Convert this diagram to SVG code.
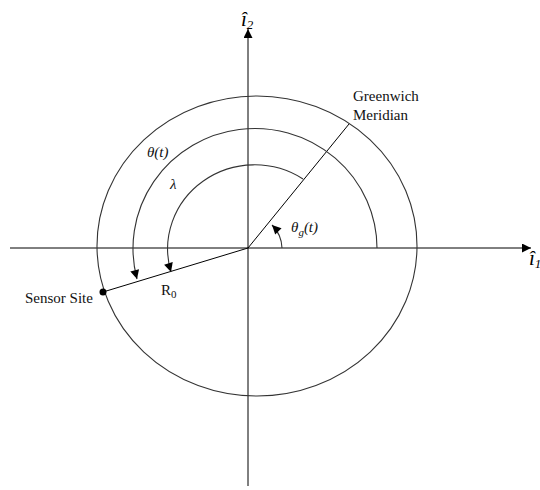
<svg xmlns="http://www.w3.org/2000/svg" width="540" height="490" viewBox="0 0 540 490">
  <style>
    .ln { fill: none; stroke: #000; stroke-width: 1; }
    .arc { fill: none; stroke: #333; stroke-width: 1.1; }
    .t { font-family: "Liberation Serif", "Times New Roman", serif; font-size: 15px; fill: #111; }
    .it { font-style: italic; }
    .ax { font-family: "Liberation Serif", "Times New Roman", serif; font-size: 21px; font-style: italic; fill: #000; }
  </style>
  <defs>
    <marker id="ah" viewBox="0 0 10 10" refX="10" refY="5" markerWidth="10" markerHeight="9" markerUnits="userSpaceOnUse" orient="auto">
      <path d="M0,0 L10,5 L0,10 z" fill="#000"/>
    </marker>
  </defs>
  <rect width="540" height="490" fill="#fff"/>

  <g id="axes">
    <path class="ln" d="M10,248 L531,248" marker-end="url(#ah)"/>
    <path class="ln" d="M248,486 L248,29" marker-end="url(#ah)"/>
  </g>

  <g id="earth">
    <ellipse class="arc" cx="257" cy="246" rx="160" ry="150"/>
  </g>

  <g id="connectors">
    <path id="meridian" class="ln" d="M248,248 L349,124"/>
    <path id="r0-line" class="ln" d="M248,248 L103,292"/>
    <path id="theta-arc" class="arc" d="M377,248 A122,120 0 1 0 137,279" marker-end="url(#ah)"/>
    <path id="lambda-arc" class="arc" d="M303,179 A87,84 0 0 0 171,272" marker-end="url(#ah)"/>
    <path id="thetag-arc" class="arc" d="M282,248 A34,34 0 0 0 272,225" marker-end="url(#ah)"/>
  </g>

  <g id="sensor-site">
    <circle cx="103" cy="292" r="3.5" fill="#000"/>
    <text class="t" x="25" y="303">Sensor Site</text>
  </g>

  <g id="greenwich-label">
    <text class="t" x="353" y="101">Greenwich</text>
    <text class="t" x="353" y="120">Meridian</text>
  </g>

  <g id="labels">
    <text class="t" x="161" y="295">R<tspan font-size="11" dy="3">0</tspan></text>
    <text class="t it" x="147" y="157">θ(t)</text>
    <text class="t it" x="170" y="189">λ</text>
    <text class="t it" x="291" y="232">θ<tspan font-size="11" dy="4">g</tspan><tspan dy="-4">(t)</tspan></text>
  </g>

  <g id="axis-labels">
    <text class="ax" x="529" y="265">î<tspan font-size="13" dy="3">1</tspan></text>
    <text class="ax" x="241" y="26">î<tspan font-size="13" dy="3">2</tspan></text>
  </g>
</svg>
